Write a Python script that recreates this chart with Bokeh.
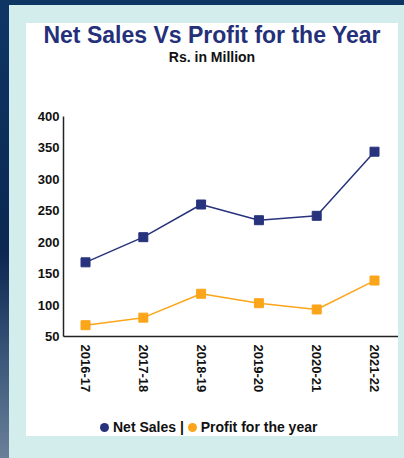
from bokeh.plotting import figure
from bokeh.layouts import column
from bokeh.models import Range1d, FixedTicker, Div
from bokeh.embed import file_html
from bokeh.resources import INLINE

years = ["2016-17", "2017-18", "2018-19", "2019-20", "2020-21", "2021-22"]
net_sales = [168, 208, 260, 235, 242, 344]
profit = [68, 80, 118, 103, 93, 139]
y_ticks = [50, 100, 150, 200, 250, 300, 350, 400]
x_idx = list(range(len(years)))

title_text = "Net Sales Vs Profit for the Year"
subtitle_text = "Rs. in Million"
series_names = ["Net Sales", "Profit for the year"]

NAVY = "#27337c"
ORANGE = "#fba51a"
CYAN = "#d3ecec"
FONT = "Liberation Sans"
PANEL_W = 372

p = figure(width=PANEL_W, height=351, output_backend="svg", toolbar_location=None,
           title=None,
           x_range=Range1d(-0.381, 5.415), y_range=Range1d(50, 400),
           min_border_left=37, min_border_right=0, min_border_top=49,
           min_border_bottom=82)
p.border_fill_color = "white"
p.background_fill_color = "white"
p.outline_line_color = None
p.grid.visible = False

for ax in (p.xaxis[0], p.yaxis[0]):
    ax.axis_line_color = "#222222"
    ax.axis_line_width = 1.5
    ax.major_tick_out = 0
    ax.major_tick_in = 0
    ax.minor_tick_out = 0
    ax.minor_tick_in = 0
    ax.major_label_text_font = FONT
    ax.major_label_text_font_style = "bold"
    ax.major_label_text_color = "#111111"
    ax.major_label_text_font_size = "13px"

p.xaxis.ticker = FixedTicker(ticks=x_idx)
p.xaxis.major_label_overrides = {i: y for i, y in zip(x_idx, years)}
p.xaxis.major_label_orientation = "vertical"
p.xaxis.major_label_standoff = 8

p.yaxis.ticker = FixedTicker(ticks=y_ticks)
p.yaxis.major_label_standoff = 4

p.line(x_idx, net_sales, line_color=NAVY, line_width=1.5)
p.scatter(x_idx, net_sales, marker="square", size=9, fill_color=NAVY, line_color=NAVY)
p.line(x_idx, profit, line_color=ORANGE, line_width=1.5)
p.scatter(x_idx, profit, marker="square", size=9, fill_color=ORANGE, line_color=ORANGE)

base = {"font-family": FONT, "font-weight": "bold", "margin": "0",
        "background-color": "white"}

title_div = Div(text=title_text, width=PANEL_W, height=24,
                styles=dict(base, **{"font-size": "23px", "line-height": "24px",
                                     "color": "#25307a", "text-align": "center"}))
sub_div = Div(text=subtitle_text, width=PANEL_W, height=20,
              styles=dict(base, **{"font-size": "14px", "line-height": "20px",
                                   "color": "#111111", "text-align": "center"}))

dot = ('<span style="display:inline-block;width:9px;height:9px;'
       'border-radius:50%;background:{};vertical-align:middle;'
       'margin-right:4px;position:relative;top:-1px"></span>')
legend_html = (dot.format(NAVY) + series_names[0] + " | " +
               dot.format(ORANGE) + series_names[1])
legend_div = Div(text=legend_html, width=PANEL_W, height=18,
                 styles=dict(base, **{"font-size": "14px", "line-height": "18px",
                                      "color": "#111111", "text-align": "left",
                                      "padding-left": "74px",
                                      "box-sizing": "border-box"}))

white = column(title_div, sub_div, p, legend_div, spacing=0,
               styles={"background-color": "white"})
cyan = column(white, styles={"background-color": CYAN,
                             "padding": "18px 6px 22px 17px"})
layout = column(cyan, styles={"background": "linear-gradient(180deg, #0e3665 0%, "
                                            "#0b2752 55%, #3e5a7c 80%, #6a8099 100%)",
                              "padding": "5px 0 0 9px"})

open("out.html", "w").write(file_html(layout, INLINE))
